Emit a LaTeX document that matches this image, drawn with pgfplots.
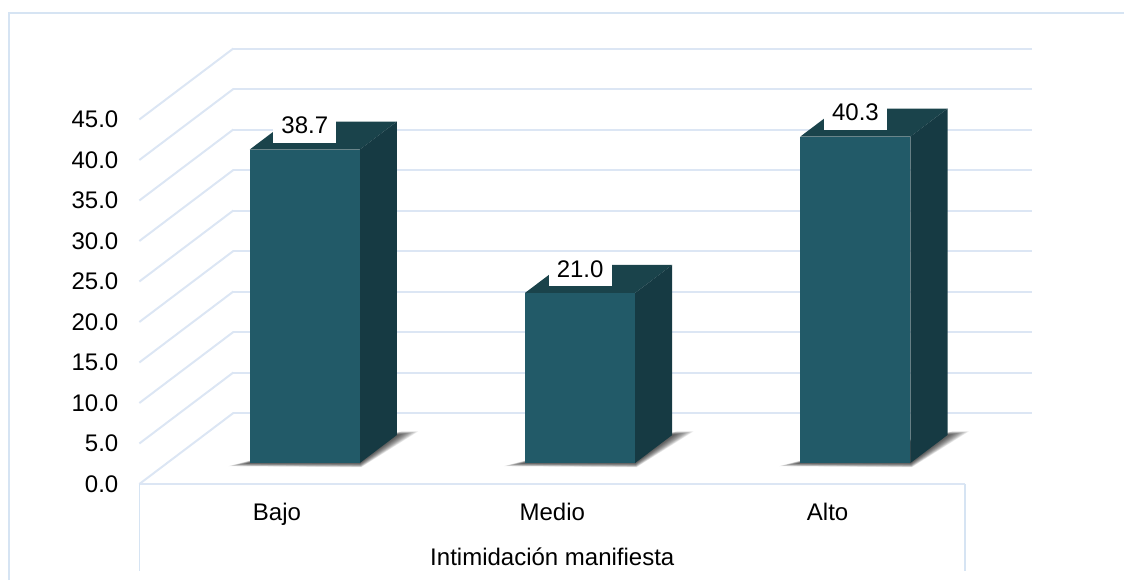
\documentclass[border=0pt]{standalone}
\usepackage{pgfplots}
\pgfplotsset{compat=1.18}
\usepackage{fontspec}
\setmainfont{Liberation Sans}
\definecolor{gridblue}{HTML}{DCE6F4}
\definecolor{framblue}{HTML}{D6E4F3}
\definecolor{barfront}{HTML}{225A68}
\definecolor{bartop}{HTML}{1A434B}
\definecolor{barside}{HTML}{163A43}

% depth of the bars inside the floor
\def\dfront{0.296}
\def\dback{0.690}
\def\halfw{0.2}

% one layer of the soft shadow on the floor
\newcommand{\shadowlayer}[2]{%
  \pgfmathsetmacro{\ax}{#1-\halfw-0.062*#2}\pgfmathsetmacro{\ay}{\dfront-0.045*#2}%
  \pgfmathsetmacro{\bx}{#1+\halfw+0.025*#2}\pgfmathsetmacro{\by}{\dfront-0.06*#2}%
  \pgfmathsetmacro{\cx}{#1+\halfw+0.06*#2}\pgfmathsetmacro{\cy}{\dback+0.05*#2}%
  \pgfmathsetmacro{\ex}{#1+\halfw}\pgfmathsetmacro{\ey}{\dback+0.05*#2}%
  \pgfmathsetmacro{\fx}{#1-\halfw}\pgfmathsetmacro{\fy}{\dfront+0.05*#2}%
  \addplot3[draw=none,fill=black,fill opacity=0.08,forget plot] coordinates
    {(\ax,\ay,0) (\bx,\by,0) (\cx,\cy,0) (\ex,\ey,0) (\fx,\fy,0)} -- cycle;%
}
% one bar: category position and value
\newcommand{\bardraw}[2]{%
  \pgfmathsetmacro{\xl}{#1-\halfw}\pgfmathsetmacro{\xr}{#1+\halfw}%
  \addplot3[draw=none,fill=bartop,forget plot] coordinates
    {(\xl,\dfront,#2) (\xr,\dfront,#2) (\xr,\dback,#2) (\xl,\dback,#2)} -- cycle;
  \addplot3[draw=none,fill=barside,forget plot] coordinates
    {(\xr,\dfront,0) (\xr,\dback,0) (\xr,\dback,#2) (\xr,\dfront,#2)} -- cycle;
  \addplot3[draw=none,fill=barfront,forget plot] coordinates
    {(\xl,\dfront,0) (\xr,\dfront,0) (\xr,\dfront,#2) (\xl,\dfront,#2)} -- cycle;
  \addplot3[draw=none,mark=none,forget plot,nodes near coords,point meta=z,
    nodes near coords style={fill=white,inner sep=0pt,minimum width=31.5pt,minimum height=17pt,
      anchor=center,yshift=12pt,text=black,
      /pgf/number format/.cd,fixed,fixed zerofill,precision=1,assume math mode=true}]
    coordinates {(#1,\dfront,#2)};%
}

\begin{document}
\begin{tikzpicture}
\useasboundingbox (0,0) rectangle (562pt,290pt);
% outer chart frame, cut by the page on two sides
\draw[framblue,line width=0.7pt] (4.5pt,0) -- (4.5pt,283.5pt) -- (562pt,283.5pt);
\begin{axis}[
  at={(138.5pt,48pt)},anchor=origin,
  x={(137.65pt,0pt)},y={(47pt,35.5pt)},z={(0pt,4.05pt)},
  xmin=-0.5,xmax=2.402,ymin=0,ymax=1,zmin=0,zmax=45,
  clip=false,
  axis line style={draw=none},
  major tick length=0pt,
  ytick=\empty,
  xtick={0,1,2},xticklabels={Bajo,Medio,Alto},
  ztick={0,5,...,45},
  zmajorgrids=true,
  major grid style={gridblue,line width=1pt},
  font=\fontsize{12}{14}\selectfont,
  /pgf/number format/.cd,fixed,fixed zerofill,precision=1,assume math mode=true,
  /pgfplots/.cd,
  x tick label style={anchor=center,text height=8.6pt,text depth=2.5pt,yshift=-15pt},
  z tick label style={anchor=east,xshift=-7pt},
]
% floor edges and the sides of the category band
\addplot3[gridblue,line width=1pt,forget plot] coordinates {(-0.5,0,0) (2.5,0,0)};
\addplot3[framblue,line width=0.8pt,forget plot] coordinates {(-0.5,0,0) (-0.5,0,-10.75)};
\addplot3[framblue,line width=0.8pt,forget plot] coordinates {(2.5,0,0) (2.5,0,-10.75)};
\foreach \s in {1,0.92,0.84,0.76,0.68,0.6,0.52,0.44,0.36,0.28,0.2,0.12}{\shadowlayer{0}{\s}\shadowlayer{1}{\s}\shadowlayer{2}{\s}}
\bardraw{0}{38.7}
\bardraw{1}{21.0}
\bardraw{2}{40.3}
\node[anchor=center] at (axis cs:1,0,0) [yshift=-36.5pt] {Intimidación manifiesta};
\end{axis}
\end{tikzpicture}
\end{document}
